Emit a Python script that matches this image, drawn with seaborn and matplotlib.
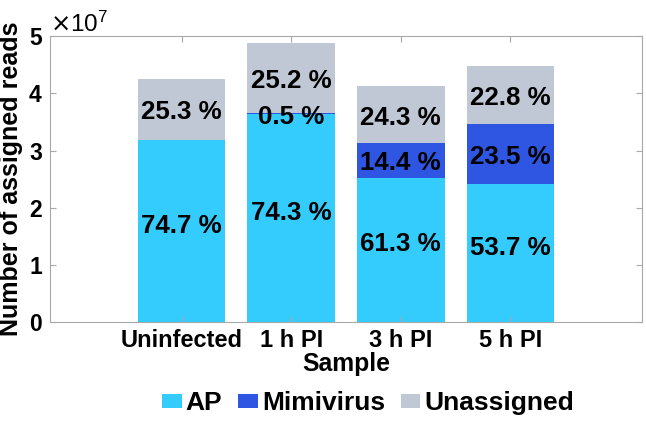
#!/usr/bin/env python3
'''
Stacked read assignment per sample (AP / Mimivirus / Unassigned)
'''

import matplotlib
matplotlib.use('Agg')
import matplotlib.pyplot as plt
from matplotlib.patches import Patch
from matplotlib.ticker import ScalarFormatter
import pandas as pd
import seaborn as sns

SAMPLES = ['Uninfected', '1 h PI', '3 h PI', '5 h PI']
AP = [3.18e7, 3.63e7, 2.53e7, 2.41e7]
MIMIVIRUS = [0.0, 0.025e7, 0.595e7, 1.05e7]
UNASSIGNED = [1.07e7, 1.23e7, 1.005e7, 1.02e7]

AP_PCT = ['74.7 %', '74.3 %', '61.3 %', '53.7 %']
MIMI_PCT = [None, '0.5 %', '14.4 %', '23.5 %']
UNAS_PCT = ['25.3 %', '25.2 %', '24.3 %', '22.8 %']

SERIES = ['AP', 'Mimivirus', 'Unassigned']
COLORS = ['#33CCFC', '#2F55E3', '#BFC8D4']
AXIS_GREY = '#A8A8A8'


def main():
    plt.rcdefaults()
    plt.rcParams['font.family'] = ['Liberation Sans', 'DejaVu Sans']

    df = pd.DataFrame({'Sample': SAMPLES, 'AP': AP,
                       'Mimivirus': MIMIVIRUS, 'Unassigned': UNASSIGNED})
    df['top_mimi'] = df['AP'] + df['Mimivirus']
    df['top_unas'] = df['top_mimi'] + df['Unassigned']

    fig = plt.figure(figsize=(6.46, 4.21), dpi=100)
    ax = fig.add_axes([0.0774, 0.234, 0.9164, 0.6805])

    # stack by overdrawing: tallest first
    for col, color in [('top_unas', COLORS[2]), ('top_mimi', COLORS[1]), ('AP', COLORS[0])]:
        sns.barplot(data=df, x='Sample', y=col, order=SAMPLES, color=color,
                    saturation=1, width=0.8, errorbar=None, linewidth=0, ax=ax)

    lbl_kw = dict(ha='center', va='center', fontsize=18.6, fontweight='bold', color='black')
    for i in range(len(SAMPLES)):
        ap, mm, top = df['AP'][i], df['top_mimi'][i], df['top_unas'][i]
        ax.text(i, ap / 2 + 0.1e7, AP_PCT[i], **lbl_kw)
        if MIMI_PCT[i]:
            ax.text(i, (ap + mm) / 2 - 0.05e7, MIMI_PCT[i], **lbl_kw)
        ax.text(i, (mm + top) / 2 - 0.05e7, UNAS_PCT[i], **lbl_kw)

    ax.set_xlim(-1.2, 4.2)
    ax.set_ylim(0, 5e7)
    ax.set_yticks([0, 1e7, 2e7, 3e7, 4e7, 5e7])
    fmt = ScalarFormatter(useMathText=True)
    fmt.set_powerlimits((0, 0))
    ax.yaxis.set_major_formatter(fmt)
    ax.yaxis.get_offset_text().set_fontsize(17.5)

    for side in ax.spines.values():
        side.set_color(AXIS_GREY)
        side.set_linewidth(0.8)
    ax.tick_params(direction='in', top=True, right=True, length=4,
                   color=AXIS_GREY, width=0.8, pad=5)
    ax.tick_params(axis='x', labelsize=17)
    ax.tick_params(axis='y', labelsize=16.5)
    for t in ax.get_xticklabels() + ax.get_yticklabels():
        t.set_fontweight('bold')

    ax.set_xlabel('Sample', fontsize=17.8, fontweight='bold', labelpad=0)
    ax.set_ylabel('Number of assigned reads', fontsize=18, fontweight='bold', labelpad=4)

    handles = [Patch(facecolor=c, edgecolor='none', label=s) for s, c in zip(SERIES, COLORS)]
    fig.legend(handles=handles, loc='center', bbox_to_anchor=(368 / 646, 1 - 403 / 421),
               ncol=3, frameon=False, prop={'weight': 'bold', 'size': 19},
               handlelength=0.75, handleheight=0.45, handletextpad=0.15,
               columnspacing=0.6, borderpad=0, borderaxespad=0)

    fig.savefig('out.png', dpi=100)


if __name__ == '__main__':
    main()
